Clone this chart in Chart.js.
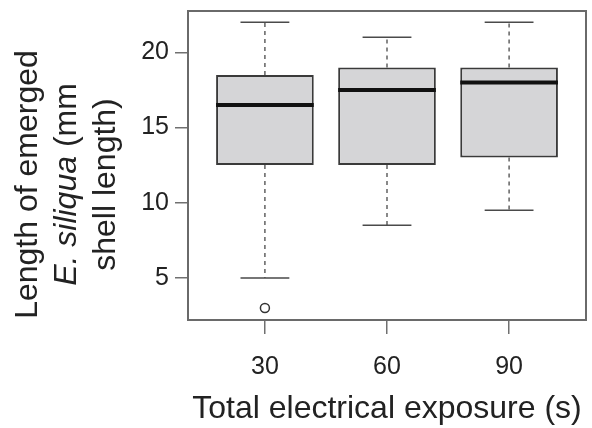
<!DOCTYPE html>
<html lang="en">
<head>
    <meta charset="UTF-8">
    <title>Length of emerged E. siliqua by electrical exposure</title>
    <script src="https://cdn.jsdelivr.net/npm/chart.js"></script>
    <style>
        body {
            margin: 0;
            background: #fff;
        }
        canvas {
            display: block;
        }
    </style>
</head>
<body>

    <canvas id="boxChart" width="592" height="428"></canvas>

    <script>
        // exposure groups and their box statistics (mm)
        const exposures = ['30', '60', '90'];
        const lowerWhisker = [5, 8.5, 9.5];
        const q1 = [12.5, 12.5, 13];
        const medians = [16.5, 17.5, 18];
        const q3 = [18.5, 19, 19];
        const upperWhisker = [22, 21, 22];
        const outliers = [[3], [], []];
        const yTicks = [5, 10, 15, 20];

        const BOX_HALF = 0.4;     // half box width, in group units
        const CAP_HALF = 0.2;     // half whisker cap width
        const FONT = '"Liberation Sans", Arial, Helvetica, sans-serif';

        const xPos = exposures.map((_, i) => i + 1);

        // horizontal or vertical segments joined into one line dataset, split by gaps
        function segments(list) {
            const pts = [];
            list.forEach(([a, b]) => {
                pts.push(a, b, { x: b.x, y: null });
            });
            return pts;
        }

        const boxes = xPos.map((x, i) => ({ x: x, y: [q1[i], q3[i]] }));
        const medianLines = segments(xPos.map((x, i) => [
            { x: x - BOX_HALF, y: medians[i] }, { x: x + BOX_HALF, y: medians[i] }
        ]));
        const whiskers = segments(xPos.flatMap((x, i) => [
            [{ x: x, y: q3[i] }, { x: x, y: upperWhisker[i] }],
            [{ x: x, y: q1[i] }, { x: x, y: lowerWhisker[i] }]
        ]));
        const caps = segments(xPos.flatMap((x, i) => [
            [{ x: x - CAP_HALF, y: upperWhisker[i] }, { x: x + CAP_HALF, y: upperWhisker[i] }],
            [{ x: x - CAP_HALF, y: lowerWhisker[i] }, { x: x + CAP_HALF, y: lowerWhisker[i] }]
        ]));
        const outlierPoints = xPos.flatMap((x, i) => outliers[i].map(v => ({ x: x, y: v })));

        const yTitle = [
            [{ text: 'Length of emerged' }],
            [{ text: 'E. siliqua', italic: true }, { text: ' (mm' }],
            [{ text: 'shell length)' }]
        ];

        // plot frame and the rotated, partly italic y title
        const framePlugin = {
            id: 'frame',
            afterDatasetsDraw(chart) {
                const { ctx, chartArea: a } = chart;
                ctx.save();
                ctx.strokeStyle = '#6a6a6a';
                ctx.lineWidth = 2;
                ctx.strokeRect(a.left, a.top, a.right - a.left, a.bottom - a.top);
                ctx.restore();
            },
            afterDraw(chart) {
                const { ctx, chartArea: a } = chart;
                const cy = (a.top + a.bottom) / 2 + 19;
                ctx.save();
                ctx.translate(0, cy);
                ctx.rotate(-Math.PI / 2);
                ctx.fillStyle = '#222';
                ctx.textBaseline = 'alphabetic';
                yTitle.forEach((parts, i) => {
                    const base = 37 + i * 39;
                    let total = 0;
                    parts.forEach(p => {
                        ctx.font = (p.italic ? 'italic ' : '') + '32px ' + FONT;
                        total += ctx.measureText(p.text).width;
                    });
                    let x = -total / 2;
                    parts.forEach(p => {
                        ctx.font = (p.italic ? 'italic ' : '') + '32px ' + FONT;
                        ctx.fillText(p.text, x, base);
                        x += ctx.measureText(p.text).width;
                    });
                });
                ctx.restore();
            }
        };

        const ctx = document.getElementById('boxChart').getContext('2d');

        new Chart(ctx, {
            type: 'bar',
            data: {
                datasets: [
                    {
                        type: 'line',
                        data: whiskers,
                        borderColor: '#4a4a4a',
                        borderWidth: 1.3,
                        borderDash: [4, 4],
                        pointRadius: 0,
                        spanGaps: false,
                        order: 4
                    },
                    {
                        type: 'bar',
                        data: boxes,
                        backgroundColor: '#d5d5d7',
                        borderColor: '#3a3a3a',
                        borderWidth: 2,
                        borderSkipped: false,
                        categoryPercentage: BOX_HALF * 2,
                        barPercentage: 1,
                        order: 3
                    },
                    {
                        type: 'line',
                        data: caps,
                        borderColor: '#4a4a4a',
                        borderWidth: 1.5,
                        pointRadius: 0,
                        spanGaps: false,
                        order: 2
                    },
                    {
                        type: 'line',
                        data: medianLines,
                        borderColor: '#111',
                        borderWidth: 4,
                        borderCapStyle: 'butt',
                        pointRadius: 0,
                        spanGaps: false,
                        order: 1
                    },
                    {
                        type: 'scatter',
                        data: outlierPoints,
                        pointRadius: 4.5,
                        pointBackgroundColor: '#fff',
                        pointBorderColor: '#333',
                        pointBorderWidth: 1.5,
                        order: 0
                    }
                ]
            },
            options: {
                responsive: false,
                animation: false,
                layout: { padding: { top: 11, right: 6, left: 0, bottom: 0 } },
                plugins: {
                    legend: { display: false },
                    tooltip: { enabled: false }
                },
                scales: {
                    x: {
                        type: 'linear',
                        offset: false,
                        min: 0.37,
                        max: 3.63,
                        afterFit: scale => {
                            scale.height = 108;
                            scale.paddingLeft = 0;
                            scale.paddingRight = 0;
                        },
                        afterBuildTicks: scale => { scale.ticks = xPos.map(v => ({ value: v })); },
                        grid: {
                            offset: false,
                            drawOnChartArea: false,
                            drawTicks: true,
                            tickLength: 14,
                            color: '#707070',
                            lineWidth: 1.5
                        },
                        border: { display: false },
                        ticks: {
                            autoSkip: false,
                            maxRotation: 0,
                            padding: 18,
                            color: '#222',
                            font: { family: FONT, size: 25 },
                            callback: value => exposures[value - 1]
                        },
                        title: {
                            display: true,
                            text: 'Total electrical exposure (s)',
                            color: '#222',
                            padding: 0,
                            font: { family: FONT, size: 32, lineHeight: 1.2 }
                        }
                    },
                    y: {
                        min: 2.2,
                        max: 22.75,
                        afterFit: scale => {
                            scale.width = 188;
                            scale.paddingTop = 0;
                            scale.paddingBottom = 0;
                        },
                        afterBuildTicks: scale => { scale.ticks = yTicks.map(v => ({ value: v })); },
                        grid: {
                            drawOnChartArea: false,
                            drawTicks: true,
                            tickLength: 13,
                            color: '#707070',
                            lineWidth: 1.5
                        },
                        border: { display: false },
                        ticks: {
                            padding: 6,
                            color: '#222',
                            font: { family: FONT, size: 25 }
                        }
                    }
                }
            },
            plugins: [framePlugin]
        });
    </script>

</body>
</html>
